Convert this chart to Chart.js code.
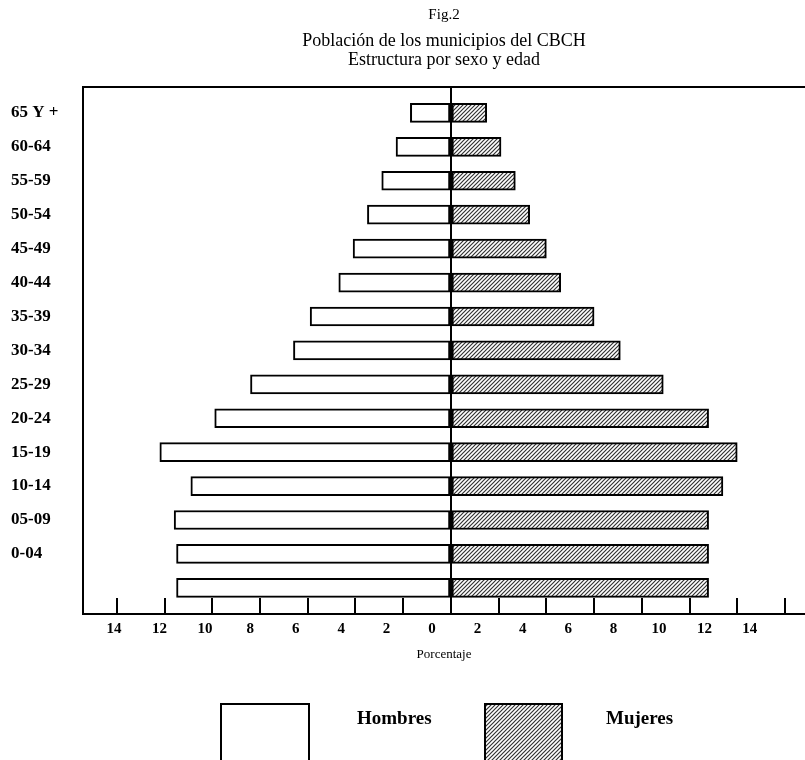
<!DOCTYPE html>
<html>
<head>
<meta charset="utf-8">
<script src="https://cdn.jsdelivr.net/npm/chart.js@4.4.1/dist/chart.umd.min.js"></script>
<style>
  html, body { margin: 0; padding: 0; background: #fff; }
  #wrap { width: 805px; height: 760px; }
</style>
</head>
<body>
<div id="wrap"><canvas id="pyramid"></canvas></div>
<script>
// age groups, top to bottom (the last bar has no label in the original)
const ageLabels = ['65 Y +', '60-64', '55-59', '50-54', '45-49', '40-44', '35-39',
  '30-34', '25-29', '20-24', '15-19', '10-14', '05-09', '0-04', ''];
// percentages
const hombres = [1.7, 2.3, 2.9, 3.5, 4.1, 4.7, 5.9, 6.6, 8.4, 9.9, 12.2, 10.9, 11.6, 11.5, 11.5];
const mujeres = [1.5, 2.1, 2.7, 3.3, 4.0, 4.6, 6.0, 7.1, 8.9, 10.8, 12.0, 11.4, 10.8, 10.8, 10.8];
// axis ticks
const tickValues = [-14, -12, -10, -8, -6, -4, -2, 0, 2, 4, 6, 8, 10, 12, 14];

const serif = '"Liberation Serif", "DejaVu Serif", serif';

function hatchPattern() {
  const c = document.createElement('canvas');
  c.width = 4; c.height = 4;
  const g = c.getContext('2d');
  g.fillStyle = '#fff';
  g.fillRect(0, 0, 4, 4);
  g.strokeStyle = '#333';
  g.lineWidth = 1.2;
  g.beginPath();
  g.moveTo(-1, 5); g.lineTo(5, -1);
  g.moveTo(-1, 1); g.lineTo(1, -1);
  g.moveTo(3, 5); g.lineTo(5, 3);
  g.stroke();
  return g.createPattern(c, 'repeat');
}
const hatch = hatchPattern();

// legend drawn as in the print: box, gap, bold name
const legendBoxes = {
  id: 'legendBoxes',
  afterDraw(chart) {
    const ctx = chart.ctx;
    const pos = [{ x: 221, w: 88, tx: 357 }, { x: 485, w: 77, tx: 606 }];
    ctx.save();
    chart.data.datasets.forEach((ds, i) => {
      const p = pos[i];
      ctx.fillStyle = ds.backgroundColor;
      ctx.fillRect(p.x, 704, p.w, 70);
      ctx.lineWidth = 2;
      ctx.strokeStyle = '#000';
      ctx.strokeRect(p.x, 704, p.w, 70);
      ctx.fillStyle = '#000';
      ctx.font = 'bold 19px ' + serif;
      ctx.textBaseline = 'middle';
      ctx.fillText(ds.label, p.tx, 719);
    });
    ctx.restore();
  }
};

const data = {
  datasets: [
    {
      label: 'Hombres',
      data: hombres.map((v, i) => ({ x: -v, y: i })),
      backgroundColor: '#fff',
      borderColor: '#000',
      borderWidth: 2,
      borderSkipped: false,
      barThickness: 19,
      grouped: false
    },
    {
      label: 'Mujeres',
      data: mujeres.map((v, i) => ({ x: v, y: i })),
      backgroundColor: hatch,
      borderColor: '#000',
      borderWidth: 2,
      borderSkipped: false,
      barThickness: 19,
      grouped: false
    }
  ]
};

new Chart(document.getElementById('pyramid'), {
  type: 'bar',
  data: data,
  plugins: [legendBoxes],
  options: {
    indexAxis: 'y',
    responsive: true,
    maintainAspectRatio: false,
    animation: false,
    layout: { padding: { left: 11, right: 0, top: 0, bottom: 96 } },
    plugins: {
      legend: { display: false },
      tooltip: { enabled: false },
      title: {
        display: true,
        text: 'Fig.2',
        fullSize: false,
        color: '#000',
        font: { family: serif, size: 15, weight: 'normal', lineHeight: 1.2 },
        padding: { top: 6, bottom: 8 }
      },
      subtitle: {
        display: true,
        text: ['Población de los municipios del CBCH', 'Estructura por sexo y edad'],
        fullSize: false,
        color: '#000',
        font: { family: serif, size: 18, weight: 'normal', lineHeight: 1.05 },
        padding: { top: 0, bottom: 17 }
      }
    },
    scales: {
      y: {
        type: 'linear',
        reverse: true,
        offset: false,
        min: -0.77,
        max: 14.77,
        afterBuildTicks: s => { s.ticks = ageLabels.map((_, i) => ({ value: i })); },
        afterFit: s => { s.width = 72; },
        ticks: {
          crossAlign: 'far',
          color: '#000',
          font: { family: serif, size: 17, weight: 'bold' },
          callback: v => ageLabels[v]
        },
        grid: { display: false, offset: false },
        border: { display: true, color: '#000', width: 2 }
      },
      x: {
        type: 'linear',
        position: 'bottom',
        min: -15.42,
        max: 14.84,
        afterBuildTicks: s => { s.ticks = tickValues.map(v => ({ value: v })); },
        afterFit: s => { s.height = 0; },
        ticks: { display: false },
        grid: {
          drawOnChartArea: true,
          color: c => (c.tick && c.tick.value === 0 ? '#000' : 'rgba(0,0,0,0)'),
          lineWidth: 2,
          tickColor: '#000',
          tickLength: -16,
          tickWidth: 2
        },
        border: { display: true, color: '#000', width: 2 }
      },
      xl: {
        type: 'linear',
        position: 'bottom',
        min: -15.37,
        max: 16.43,
        afterBuildTicks: s => { s.ticks = tickValues.map(v => ({ value: v })); },
        afterFit: s => { s.height = 50; },
        ticks: {
          color: '#000',
          padding: 6,
          maxRotation: 0,
          autoSkip: false,
          font: { family: serif, size: 15, weight: 'bold' },
          callback: v => String(Math.abs(v))
        },
        grid: { display: false, drawTicks: false },
        border: { display: false },
        title: {
          display: true,
          text: 'Porcentaje',
          color: '#000',
          font: { family: serif, size: 13 },
          padding: { top: 0, bottom: 2 }
        }
      },
      xt: {
        type: 'linear',
        position: 'top',
        min: 0,
        max: 1,
        afterFit: s => { s.height = 0; },
        ticks: { display: false },
        grid: { display: false, drawTicks: false },
        border: { display: true, color: '#000', width: 2 }
      }
    }
  }
});
</script>
</body>
</html>
